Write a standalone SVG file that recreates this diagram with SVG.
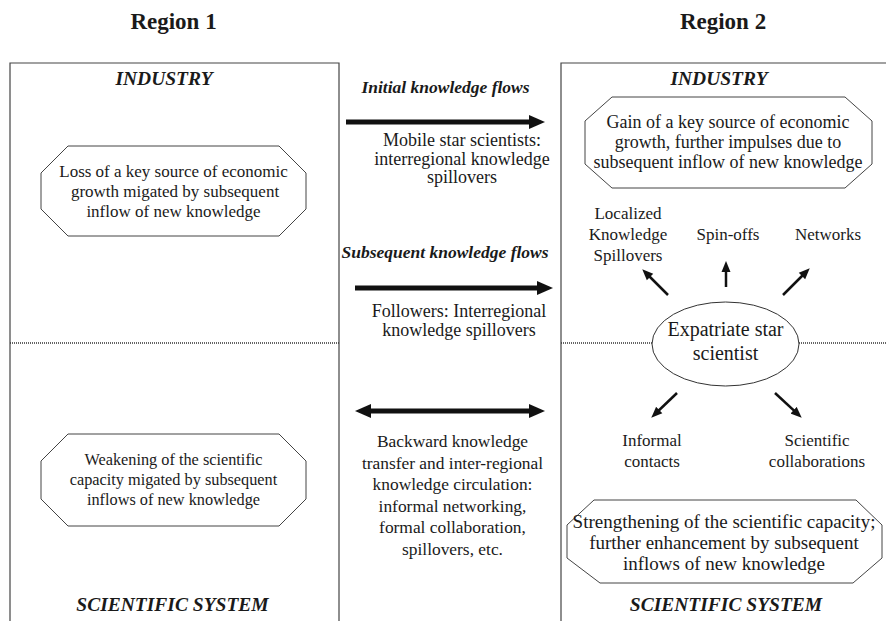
<svg xmlns="http://www.w3.org/2000/svg" width="886" height="621" viewBox="0 0 886 621">
  <defs>
    <style>
      text { font-family: "Liberation Serif", "Times New Roman", serif; fill: #1a1a1a; text-anchor: middle; }
      .region { font-size: 23px; font-weight: bold; }
      .hdr { font-size: 19.5px; font-weight: bold; font-style: italic; }
      .flow { font-size: 17.5px; font-weight: bold; font-style: italic; }
      .mid { font-size: 18px; }
      .back { font-size: 17.4px; }
      .lbl { font-size: 17px; }
      .frame { fill: none; stroke: #444; stroke-width: 1.2; }
      .divider { fill: none; stroke: #333; stroke-width: 1.3; stroke-dasharray: 1 1; }
      .octa { fill: #fff; stroke: #444; stroke-width: 1; }
      .big { fill: none; stroke: #111; stroke-width: 5; }
      .small { fill: none; stroke: #111; stroke-width: 2.5; }
    </style>
    <marker id="bigHead" markerUnits="userSpaceOnUse" markerWidth="16" markerHeight="14" refX="8" refY="7" orient="auto-start-reverse">
      <path d="M0,0 L16,7 L0,14 Z" fill="#111"/>
    </marker>
    <marker id="smallHead" markerUnits="userSpaceOnUse" markerWidth="11" markerHeight="10" refX="5" refY="5" orient="auto">
      <path d="M0,0.5 L11,5 L0,9.5 Z" fill="#111"/>
    </marker>
  </defs>

  <rect width="886" height="621" fill="#fff"/>

  <!-- region titles -->
  <text class="region" x="173.5" y="29">Region 1</text>
  <text class="region" x="723" y="29">Region 2</text>

  <!-- region frames -->
  <g id="region1-frame">
    <path class="frame" d="M10,621 V63 H339 V621"/>
    <path class="divider" d="M10,343 H339"/>
    <text class="hdr" x="164" y="85">INDUSTRY</text>
    <text class="hdr" x="172.5" y="611">SCIENTIFIC SYSTEM</text>
  </g>
  <g id="region2-frame">
    <path class="frame" d="M561,621 V63 H886"/>
    <path class="divider" d="M561,343 H652 M799,343 H886"/>
    <text class="hdr" x="719" y="85">INDUSTRY</text>
    <text class="hdr" x="726" y="611">SCIENTIFIC SYSTEM</text>
  </g>

  <!-- Region 1 nodes -->
  <g id="r1-industry">
    <polygon class="octa" points="68,146 279,146 306,173 306,209 279,236 68,236 41,209 41,173"/>
    <text class="lbl" x="173.5" y="177">Loss of a key source of economic</text>
    <text class="lbl" x="175" y="197">growth migated by subsequent</text>
    <text class="lbl" x="173.5" y="217">inflow of new knowledge</text>
  </g>
  <g id="r1-science">
    <polygon class="octa" points="68,434 279,434 306,461 306,499 279,526 68,526 41,499 41,461"/>
    <text class="lbl" x="173.5" y="465" style="font-size:16.3px">Weakening of the scientific</text>
    <text class="lbl" x="173.5" y="485" style="font-size:16.3px">capacity migated by subsequent</text>
    <text class="lbl" x="173.5" y="505" style="font-size:16.3px">inflows of new knowledge</text>
  </g>

  <!-- Region 2 nodes -->
  <g id="r2-industry">
    <polygon class="octa" points="612,97 845,97 872,121 872,164 845,188 612,188 585,164 585,121"/>
    <text class="mid" x="728" y="128">Gain of a key source of economic</text>
    <text class="mid" x="728" y="148">growth, further impulses due to</text>
    <text class="mid" x="728" y="168">subsequent inflow of new knowledge</text>
  </g>
  <g id="r2-science">
    <polygon class="octa" points="594,500 856,500 882,525 882,558 853,583 600,583 567,558 567,525"/>
    <text class="lbl" x="724" y="528" style="font-size:19px">Strengthening of the scientific capacity;</text>
    <text class="lbl" x="724" y="549" style="font-size:19px">further enhancement by subsequent</text>
    <text class="lbl" x="724" y="570" style="font-size:19px">inflows of new knowledge</text>
  </g>
  <g id="star-scientist">
    <ellipse cx="725.5" cy="344" rx="73.5" ry="42" fill="#fff" stroke="#333" stroke-width="1"/>
    <text x="725.5" y="336" style="font-size:20px">Expatriate star</text>
    <text x="725.5" y="360" style="font-size:20px">scientist</text>
  </g>
  <g id="localized-spillovers">
    <text class="lbl" x="628" y="219">Localized</text>
    <text class="lbl" x="628" y="240">Knowledge</text>
    <text class="lbl" x="628" y="261">Spillovers</text>
  </g>
  <g id="spin-offs">
    <text class="lbl" x="728" y="240">Spin-offs</text>
  </g>
  <g id="networks">
    <text class="lbl" x="828" y="240">Networks</text>
  </g>
  <g id="informal-contacts">
    <text class="lbl" x="652" y="446">Informal</text>
    <text class="lbl" x="652" y="467">contacts</text>
  </g>
  <g id="scientific-collaborations">
    <text class="lbl" x="817" y="446">Scientific</text>
    <text class="lbl" x="817" y="467">collaborations</text>
  </g>

  <!-- flow labels between regions -->
  <g id="initial-flows">
    <text class="flow" x="445.5" y="93">Initial knowledge flows</text>
    <text class="mid" x="462" y="146">Mobile star scientists:</text>
    <text class="mid" x="462" y="164.5">interregional knowledge</text>
    <text class="mid" x="462" y="183">spillovers</text>
  </g>
  <g id="subsequent-flows">
    <text class="flow" x="445" y="258">Subsequent knowledge flows</text>
    <text class="mid" x="459" y="317">Followers: Interregional</text>
    <text class="mid" x="459" y="336">knowledge spillovers</text>
  </g>
  <g id="backward-flows">
    <text class="back" x="452.5" y="447">Backward knowledge</text>
    <text class="back" x="452.5" y="468.5">transfer and inter-regional</text>
    <text class="back" x="452.5" y="490">knowledge circulation:</text>
    <text class="back" x="452.5" y="511.5">informal networking,</text>
    <text class="back" x="452.5" y="533">formal collaboration,</text>
    <text class="back" x="452.5" y="554.5">spillovers, etc.</text>
  </g>

  <!-- connectors -->
  <g id="connectors">
    <line class="big" x1="346" y1="122" x2="537" y2="122" marker-end="url(#bigHead)"/>
    <line class="big" x1="355" y1="288" x2="545" y2="288" marker-end="url(#bigHead)"/>
    <line class="big" x1="363" y1="411" x2="537" y2="411" marker-start="url(#bigHead)" marker-end="url(#bigHead)"/>
    <line class="small" x1="668" y1="295" x2="646.5" y2="273.5" marker-end="url(#smallHead)"/>
    <line class="small" x1="726" y1="287" x2="726" y2="267" marker-end="url(#smallHead)"/>
    <line class="small" x1="783" y1="295" x2="805.5" y2="272.5" marker-end="url(#smallHead)"/>
    <line class="small" x1="677" y1="393" x2="655.6" y2="413.5" marker-end="url(#smallHead)"/>
    <line class="small" x1="775" y1="393" x2="797.3" y2="413.6" marker-end="url(#smallHead)"/>
  </g>
</svg>
